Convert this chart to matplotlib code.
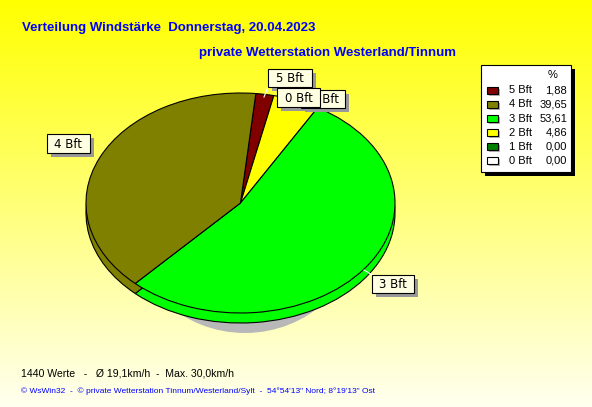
import numpy as np
import matplotlib
matplotlib.use('Agg')
import matplotlib.pyplot as plt
from matplotlib.patches import Rectangle, Ellipse

# ---------------- data ----------------
labels = ['5 Bft', '4 Bft', '3 Bft', '2 Bft', '1 Bft', '0 Bft']
values = [1.88, 39.65, 53.61, 4.86, 0.00, 0.00]
colors = ['#800000', '#808000', '#00ff00', '#ffff00', '#008000', '#ffffff']
# clockwise drawing order of the pie (by label)
pie_order = ['5 Bft', '0 Bft', '1 Bft', '2 Bft', '3 Bft', '4 Bft']
start_angle = 84.3

title = 'Verteilung Windstärke  Donnerstag, 20.04.2023'
subtitle = 'private Wetterstation Westerland/Tinnum'
stats = '1440 Werte   -   Ø 19,1km/h  -  Max. 30,0km/h'
footer = "© WsWin32  -  © private Wetterstation Tinnum/Westerland/Sylt  -  54°54'13\" Nord; 8°19'13\" Ost"

W, H = 592, 407
fig = plt.figure(figsize=(W / 100, H / 100), dpi=100)

# background gradient
bg = fig.add_axes([0, 0, 1, 1])
t = np.linspace(0, 1, H)
img = np.ones((H, 1, 3))
img[:, 0, 2] = 0.0 + 0.94 * t
bg.imshow(img, aspect='auto', extent=[0, W, H, 0], interpolation='bilinear')
bg.set_xlim(0, W); bg.set_ylim(H, 0); bg.axis('off')

# ---------------- pie ----------------
cx, cy, rx, ry = 240.5, 203.0, 154.5, 110.0
depth = 10.0
x0, x1, y0, y1 = 40, 440, 60, 360
pax = fig.add_axes([x0 / W, 1 - y1 / H, (x1 - x0) / W, (y1 - y0) / H])
pax.patch.set_alpha(0)

idx = [labels.index(l) for l in pie_order]
vals = [values[i] for i in idx if values[i] > 0]
cols = [colors[i] for i in idx if values[i] > 0]

# shadow under the pie
pax.add_patch(Ellipse((4.5 / rx, -20 / ry), 2 * 115 / rx, 2, facecolor='#b8b8b8',
                      edgecolor='none', zorder=0))
wp = dict(edgecolor='black', linewidth=0.8)
pax.pie(vals, colors=cols, startangle=start_angle, counterclock=False,
        center=(0, -depth / ry), radius=1, wedgeprops=wp)
pax.pie(vals, colors=cols, startangle=start_angle, counterclock=False,
        center=(0, 0), radius=1, wedgeprops=wp)
pax.set_aspect('auto')
pax.set_xlim((x0 - cx) / rx, (x1 - cx) / rx)
pax.set_ylim((cy - y1) / ry, (cy - y0) / ry)
pax.axis('off')

# ---------------- overlay ----------------
ov = fig.add_axes([0, 0, 1, 1])
ov.patch.set_alpha(0)
ov.set_xlim(0, W); ov.set_ylim(H, 0); ov.axis('off')


def label_box(bx0, by0, bx1, by1, text, z, tx=None):
    ov.add_patch(Rectangle((bx0 + 4, by0 + 4), bx1 - bx0, by1 - by0, facecolor='#999999',
                           edgecolor='none', zorder=4))
    ov.add_patch(Rectangle((bx0, by0), bx1 - bx0, by1 - by0, facecolor='#ffffe1',
                           edgecolor='black', linewidth=0.8, zorder=z))
    if tx is None:
        tx = (bx0 + bx1) / 2
    ov.text(tx, (by0 + by1) / 2 + 0.5, text, ha='center', va='center',
            fontsize=8.5, family='DejaVu Sans', color='black', zorder=z + 0.05)


# leader lines (white)
ov.plot([364, 374], [270, 276], color='white', lw=0.8, zorder=3)
ov.plot([268, 264], [87, 97], color='white', lw=0.8, zorder=3)

label_box(301, 90, 345, 108, '2 Bft', 5.0, tx=325)
label_box(268, 69, 312, 87, '5 Bft', 5.1)
label_box(277, 88, 320, 107, '0 Bft', 5.2)
label_box(47, 134, 90, 153, '4 Bft', 5.1)
label_box(372, 275, 414, 293, '3 Bft', 5.1)

# legend
lx0, ly0, lx1, ly1 = 481, 65, 571, 172
ov.add_patch(Rectangle((lx0 + 4, ly0 + 4), lx1 - lx0, ly1 - ly0, facecolor='black', edgecolor='none', zorder=7))
ov.add_patch(Rectangle((lx0, ly0), lx1 - lx0, ly1 - ly0, facecolor='white', edgecolor='black', linewidth=0.8, zorder=7.1))
ov.text(553, 75, '%', ha='center', va='center', fontsize=8, family='Liberation Sans', zorder=8)
for i, (lab, val, col) in enumerate(zip(labels, values, colors)):
    yy = 90.3 + 14.1 * i
    ov.add_patch(Rectangle((489, yy - 1.5), 11, 7, facecolor='#b4b4b4', edgecolor='none', zorder=7.5))
    ov.add_patch(Rectangle((487, yy - 3.5), 11, 7, facecolor=col, edgecolor='black', linewidth=0.8, zorder=7.6))
    ov.text(509, yy, lab, ha='left', va='center', fontsize=8, family='Liberation Sans', zorder=8)
    ov.text(567, yy, f'{val:.2f}'.replace('.', ','), ha='right', va='center', fontsize=8,
            family='Liberation Sans', zorder=8)

# titles
ov.text(22, 27.5, title, ha='left', va='center', fontsize=9.5, fontweight='bold',
        family='Liberation Sans', color='#0000ff')
ov.text(199, 53, subtitle, ha='left', va='center', fontsize=9.5, fontweight='bold',
        family='Liberation Sans', color='#0000ff')
ov.text(21, 373, stats, ha='left', va='center', fontsize=7.6, family='Liberation Sans', color='black')
ov.text(21, 391.5, footer, ha='left', va='center', fontsize=6, family='Liberation Sans', color='#0000ff')

fig.savefig('out.png', dpi=100)
